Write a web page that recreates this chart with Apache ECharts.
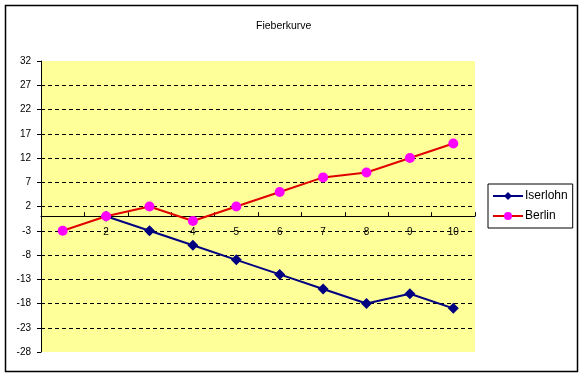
<!DOCTYPE html>
<html>
<head>
<meta charset="utf-8">
<script src="https://cdn.jsdelivr.net/npm/echarts@6/dist/echarts.min.js"></script>
<style>
  html, body { margin: 0; padding: 0; background: #fff; }
  #chart { width: 584px; height: 377px; }
</style>
</head>
<body>
<div id="chart"></div>
<script>
// Fieberkurve data
const categories = ['1', '2', '3', '4', '5', '6', '7', '8', '9', '10'];
const iserlohn = [null, 0, -3, -6, -9, -12, -15, -18, -16, -19];
const berlin = [-3, 0, 2, -1, 2, 5, 8, 9, 12, 15];

const yMin = -28;
const yMax = 32;

const font = '"Liberation Sans", Arial, sans-serif';

// grid geometry, used to put the x axis on the zero line
const gridTop = 61;
const gridBottom = 25;
const plotH = 377 - gridTop - gridBottom;
const zeroOffset = -plotH * (0 - yMin) / (yMax - yMin);

const chart = echarts.init(document.getElementById('chart'));

chart.setOption({
  animation: false,
  title: {
    text: 'Fieberkurve',
    left: 251,
    top: 16,
    textStyle: { fontFamily: font, fontSize: 10.5, fontWeight: 'normal', color: '#000' },
  },
  legend: {
    orient: 'vertical',
    left: 488,
    top: 184,
    padding: [6, 5, 6, 4],
    itemGap: 8,
    itemWidth: 30,
    itemHeight: 10,
    borderColor: '#000',
    borderWidth: 1,
    textStyle: { fontFamily: font, fontSize: 12, color: '#000', padding: [0, 0, 0, -3] },
    data: ['Iserlohn', 'Berlin'],
  },
  grid: {
    left: 41,
    right: 109,
    top: gridTop,
    bottom: gridBottom,
    show: true,
    backgroundColor: '#ffff99',
    borderWidth: 0,
  },
  xAxis: {
    type: 'category',
    data: categories,
    boundaryGap: true,
    position: 'bottom',
    offset: zeroOffset,
    axisLine: { onZero: false, lineStyle: { color: '#000', width: 1 } },
    axisTick: { show: true, inside: true, length: 4, lineStyle: { color: '#000' } },
    axisLabel: { color: '#000', fontFamily: font, fontSize: 10, margin: 11 },
    splitLine: { show: false },
  },
  yAxis: {
    type: 'value',
    min: yMin,
    max: yMax,
    interval: 5,
    axisLine: { show: true, lineStyle: { color: '#000', width: 1 } },
    axisTick: { show: true, length: 4, lineStyle: { color: '#000' } },
    axisLabel: { color: '#000', fontFamily: font, fontSize: 10, margin: 10 },
    splitLine: {
      show: true,
      showMinLine: false,
      showMaxLine: false,
      lineStyle: { color: '#000', type: [4, 3], width: 1 },
    },
  },
  series: [
    {
      name: 'Iserlohn',
      type: 'line',
      data: iserlohn,
      symbol: 'diamond',
      symbolSize: 11,
      lineStyle: { color: '#000080', width: 2 },
      itemStyle: { color: '#000080' },
      z: 3,
    },
    {
      name: 'Berlin',
      type: 'line',
      data: berlin,
      symbol: 'circle',
      symbolSize: 10,
      lineStyle: { color: '#e00000', width: 2 },
      itemStyle: { color: '#ff00ff' },
      z: 4,
    },
  ],
  graphic: [
    {
      type: 'rect',
      shape: { x: 5.5, y: 5.5, width: 572, height: 366 },
      style: { fill: 'none', stroke: '#000', lineWidth: 1.5 },
      silent: true,
    },
  ],
});
</script>
</body>
</html>
